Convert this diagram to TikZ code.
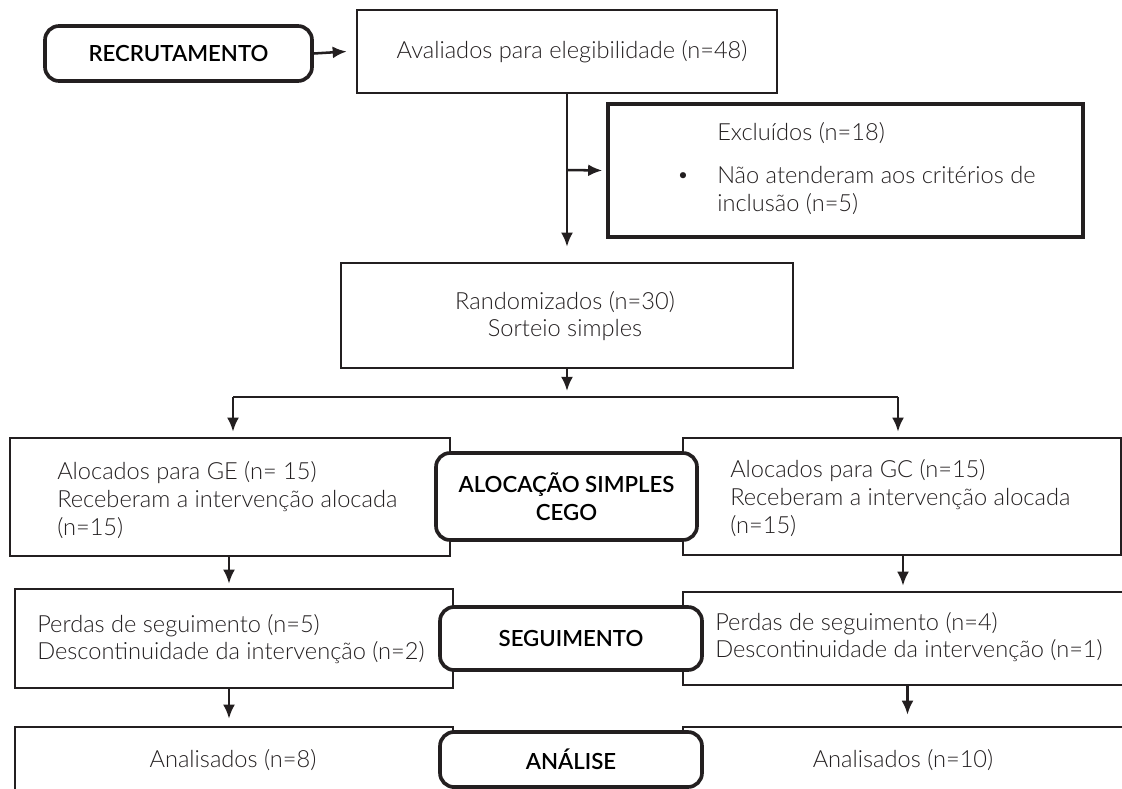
\documentclass[tikz,border=0pt]{standalone}
\usepackage{fontspec}
\usetikzlibrary{arrows.meta,calc}
\IfFontExistsTF{Lato Light}{\setmainfont{Lato Light}}{\setmainfont{Lato}}
\IfFontExistsTF{Lato Semibold}{\newfontfamily\labfont{Lato Semibold}}{\newfontfamily\labfont{Lato Bold}}
\newfontfamily\bulfont{DejaVu Sans}
\definecolor{ink}{HTML}{231F20}
\newcommand\mkbox[7]{\node[#6,minimum width={(#4-#2)*0.025cm},minimum height={(#5-#3)*0.025cm}] (#1) at ({(#2+#4)/2},{(#3+#5)/2}) {#7};}
\begin{document}
\begin{tikzpicture}[x=0.025cm,y=-0.025cm,
  box/.style={draw=ink,line width=1.8pt,fill=white,rectangle,inner sep=0pt},
  thickbox/.style={box,line width=2.5pt},
  rbox/.style={draw=ink,line width=2.6pt,fill=white,rounded corners=10pt,inner sep=0pt,align=center,text=black,font=\labfont\fontsize{15.8}{20}\selectfont},
  txt/.style={inner sep=0pt,anchor=west,align=left,text=ink,font=\fontsize{16.8}{19.6}\selectfont},
  ctxt/.style={txt,anchor=center,align=center},
  arr/.style={draw=ink,line width=1.8pt,-{Latex[length=10pt,width=8.5pt]}},
  ln/.style={draw=ink,line width=1.8pt}]
\useasboundingbox (0,0) rectangle (1122,788);
\clip (0,0) rectangle (1122,788);
% boxes
\mkbox{aval}{357}{10}{777}{93}{box}{}
\mkbox{excl}{608}{104}{1083}{237}{thickbox}{}
\mkbox{rand}{341}{263}{793}{368}{box}{}
\mkbox{ge}{10}{438}{450}{556}{box}{}
\mkbox{gc}{683}{438}{1121}{555}{box}{}
\mkbox{pl}{15}{589}{453}{688}{box}{}
\mkbox{pr}{683}{592}{1140}{685}{box}{}
\mkbox{al}{15}{727}{453}{810}{box}{}
\mkbox{ar}{683}{727}{1140}{810}{box}{}
% rounded label boxes
\mkbox{rec}{45}{26}{312}{81}{rbox}{RECRUTAMENTO}
\mkbox{aloc}{436}{453}{697}{540}{rbox}{ALOCAÇÃO SIMPLES\\CEGO}
\mkbox{seg}{440}{607}{702}{670}{rbox}{SEGUIMENTO}
\mkbox{ana}{440}{732}{702}{787}{rbox}{ANÁLISE}
% texts
\node[ctxt] (avalt) at (572,52) {Avaliados para elegibilidade (n=48)};
\node[txt] (exclt) at (717,133) {Excluídos (n=18)};
\node[txt,anchor=center,font=\bulfont\fontsize{15}{15}\selectfont] (bul) at (683,178) {•};
\node[txt,anchor=north west] (exclb) at (717,166) {Não atenderam aos critérios de\\inclusão (n=5)};
\node[ctxt] (randt) at (565,316) {Randomizados (n=30)\\Sorteio simples};
\node[txt] (get) at (57,500) {Alocados para GE (n= 15)\\Receberam a intervenção alocada\\(n=15)};
\node[txt] (gct) at (730,498) {Alocados para GC (n=15)\\Receberam a intervenção alocada\\(n=15)};
\node[txt] (plt) at (37,639) {Perdas de seguimento (n=5)\\Descontinuidade da intervenção (n=2)};
\node[txt] (prt) at (715,637) {Perdas de seguimento (n=4)\\Descontinuidade da intervenção (n=1)};
\node[ctxt] (alt) at (233,760) {Analisados (n=8)};
\node[ctxt] (art) at (903,760) {Analisados (n=10)};
% connectors
\draw[arr] (rec.east) -- ($(aval.west)+(-9,0)$);
\coordinate (br) at (567,170);
\draw[ln] (aval.south) -- (br);
\draw[arr] (br) -- ($(rand.north)+(0,-15)$);
\draw[arr] (br) -- ($(excl.west)+(-4,0)$);
\coordinate (hm) at (567,397);
\coordinate (hl) at (233,397);
\coordinate (hr) at (898,397);
\draw[arr] (rand.south) -- ($(hm)+(0,-6)$);
\draw[ln] (hl) -- (hr);
\draw[arr] (hl) -- ($(hl |- ge.north)+(0,-5)$);
\draw[arr] (hr) -- ($(hr |- gc.north)+(0,-5)$);
\draw[arr] ($(ge.south)+(-1,0)$) -- ($(pl.north -| ge.south)+(-1,-4)$);
\draw[arr] ($(gc.south)+(1,0)$) -- ($(pr.north -| gc.south)+(1,-5)$);
\draw[arr] ($(pl.south)+(-5,0)$) -- ($(al.north -| pl.south)+(-5,-7)$);
\draw[arr] ($(pr.south)+(-4,0)$) -- ($(ar.north -| pr.south)+(-4,-11)$);
\end{tikzpicture}
\end{document}
